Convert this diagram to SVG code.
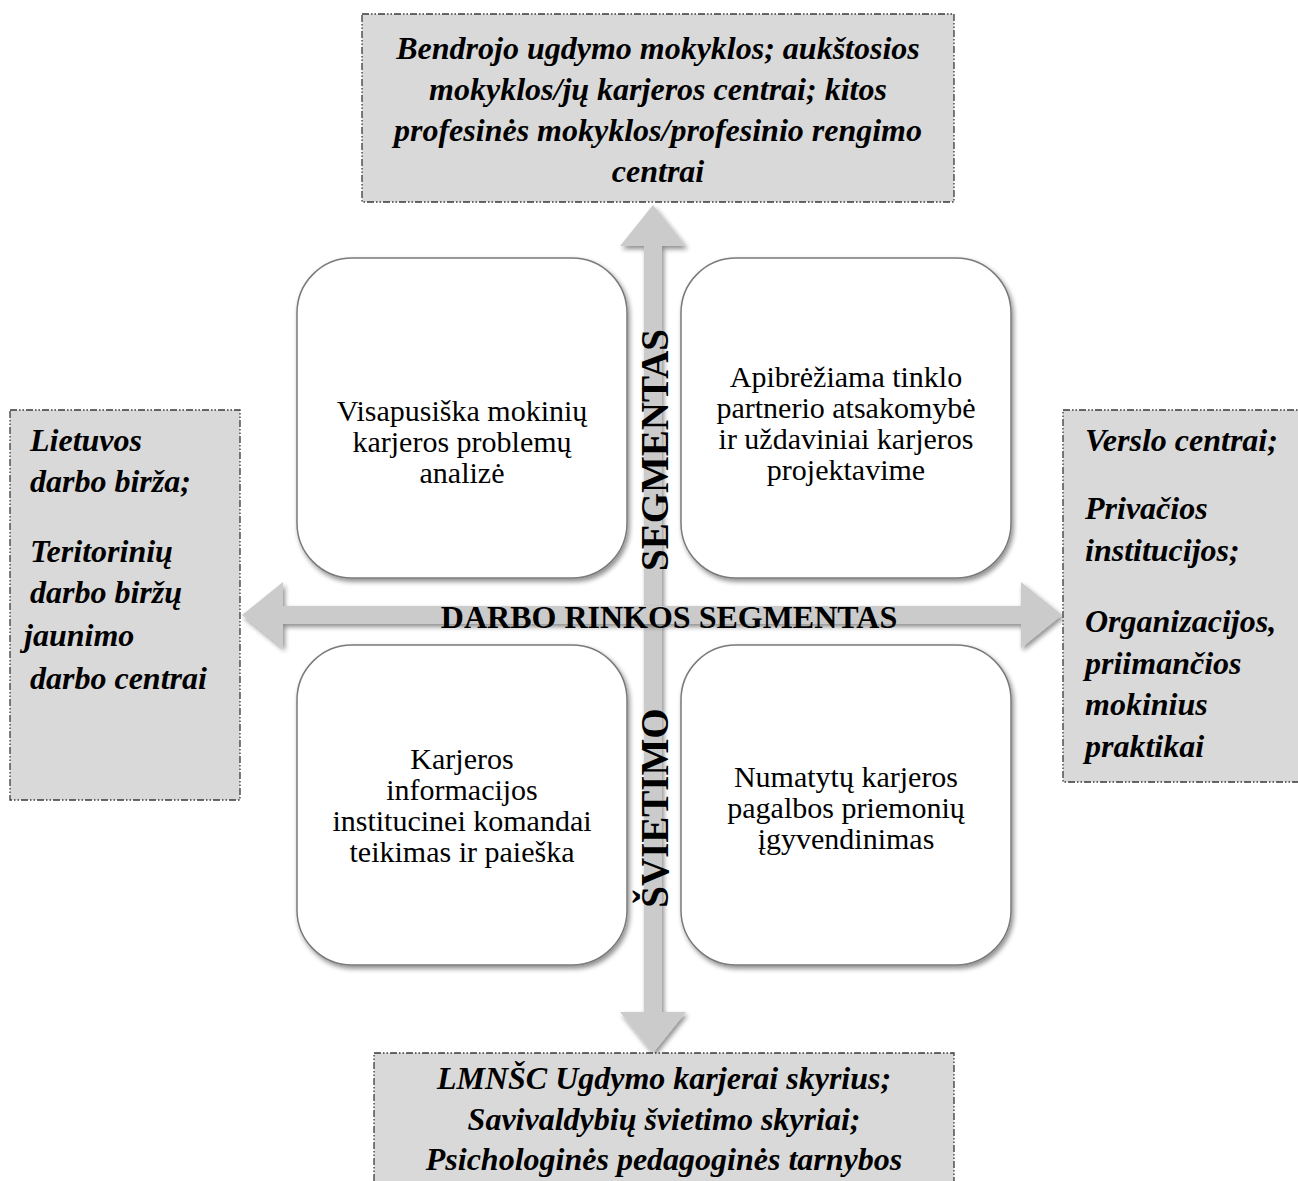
<svg xmlns="http://www.w3.org/2000/svg" width="1298" height="1181" viewBox="0 0 1298 1181">
<defs>
<filter id="sh" x="-10%" y="-10%" width="130%" height="130%">
<feGaussianBlur in="SourceAlpha" stdDeviation="2.5"/>
<feOffset dx="2" dy="3" result="b"/>
<feComponentTransfer><feFuncA type="linear" slope="0.45"/></feComponentTransfer>
<feMerge><feMergeNode/><feMergeNode in="SourceGraphic"/></feMerge>
</filter>
</defs>
<style>
.side{fill:#d9d9d9;stroke:#3a3a3a;stroke-width:1.3;stroke-dasharray:7 2 1.5 2 1.5 2}
.card{fill:#ffffff;stroke:#7a7a7a;stroke-width:1.5}
.arrow{fill:#cbcbcb}
.bi{font-family:"Liberation Serif","Times New Roman",serif;font-weight:bold;font-style:italic;font-size:32px;fill:#000}
.rg{font-family:"Liberation Serif","Times New Roman",serif;font-size:30px;fill:#000;text-anchor:middle}
.cap{font-family:"Liberation Serif","Times New Roman",serif;font-weight:bold;fill:#000;text-anchor:middle}
</style>
<rect width="1298" height="1181" fill="#ffffff"/>
<g id="connectors">
<path class="arrow" filter="url(#sh)" d="M653,205 L686,246 L662,246 L662,1012 L686,1012 L653,1053 L620,1012 L644,1012 L644,246 L620,246 Z"/>
<path class="arrow" filter="url(#sh)" d="M242,615 L283,582 L283,606 L1021,606 L1021,582 L1062,615 L1021,648 L1021,624 L283,624 L283,648 Z"/>
</g>
<g id="node-top">
<rect class="side" x="362" y="14" width="592" height="188"/>
<text class="bi" text-anchor="middle"><tspan x="658" y="59">Bendrojo ugdymo mokyklos; aukštosios</tspan><tspan x="658" y="100">mokyklos/jų karjeros centrai; kitos</tspan><tspan x="658" y="141">profesinės mokyklos/profesinio rengimo</tspan><tspan x="658" y="182">centrai</tspan></text>
</g>
<g id="node-left">
<rect class="side" x="10" y="410" width="230" height="390"/>
<text class="bi"><tspan x="30" y="451">Lietuvos</tspan><tspan x="30" y="492">darbo birža;</tspan><tspan x="30" y="562">Teritorinių</tspan><tspan x="30" y="603">darbo biržų</tspan><tspan x="24" y="646">jaunimo</tspan><tspan x="30" y="689">darbo centrai</tspan></text>
</g>
<g id="node-right">
<rect class="side" x="1063" y="410" width="260" height="372"/>
<text class="bi"><tspan x="1085" y="451">Verslo centrai;</tspan><tspan x="1085" y="519">Privačios</tspan><tspan x="1085" y="561">institucijos;</tspan><tspan x="1085" y="632">Organizacijos,</tspan><tspan x="1085" y="674">priimančios</tspan><tspan x="1085" y="715">mokinius</tspan><tspan x="1085" y="757">praktikai</tspan></text>
</g>
<g id="node-bottom">
<rect class="side" x="374" y="1053" width="580" height="140"/>
<text class="bi" text-anchor="middle"><tspan x="664" y="1089">LMNŠC Ugdymo karjerai skyrius;</tspan><tspan x="664" y="1130">Savivaldybių švietimo skyriai;</tspan><tspan x="664" y="1170">Psichologinės pedagoginės tarnybos</tspan></text>
</g>
<g id="node-tl">
<rect class="card" filter="url(#sh)" x="297" y="258" width="330" height="320" rx="55"/>
<text class="rg"><tspan x="462" y="421">Visapusiška mokinių</tspan><tspan x="462" y="452">karjeros problemų</tspan><tspan x="462" y="483">analizė</tspan></text>
</g>
<g id="node-tr">
<rect class="card" filter="url(#sh)" x="681" y="258" width="330" height="320" rx="55"/>
<text class="rg"><tspan x="846" y="387">Apibrėžiama tinklo</tspan><tspan x="846" y="418">partnerio atsakomybė</tspan><tspan x="846" y="449">ir uždaviniai karjeros</tspan><tspan x="846" y="480">projektavime</tspan></text>
</g>
<g id="node-bl">
<rect class="card" filter="url(#sh)" x="297" y="645" width="330" height="320" rx="55"/>
<text class="rg"><tspan x="462" y="769">Karjeros</tspan><tspan x="462" y="800">informacijos</tspan><tspan x="462" y="831">institucinei komandai</tspan><tspan x="462" y="862">teikimas ir paieška</tspan></text>
</g>
<g id="node-br">
<rect class="card" filter="url(#sh)" x="681" y="645" width="330" height="320" rx="55"/>
<text class="rg"><tspan x="846" y="787">Numatytų karjeros</tspan><tspan x="846" y="818">pagalbos priemonių</tspan><tspan x="846" y="849">įgyvendinimas</tspan></text>
</g>
<g id="labels">
<text class="cap" font-size="32" x="669" y="628">DARBO RINKOS SEGMENTAS</text>
<text class="cap" font-size="39" transform="translate(668,450) rotate(-90)" x="0" y="0">SEGMENTAS</text>
<text class="cap" font-size="39" transform="translate(668,808) rotate(-90)" x="0" y="0">ŠVIETIMO</text>
</g>
</svg>
